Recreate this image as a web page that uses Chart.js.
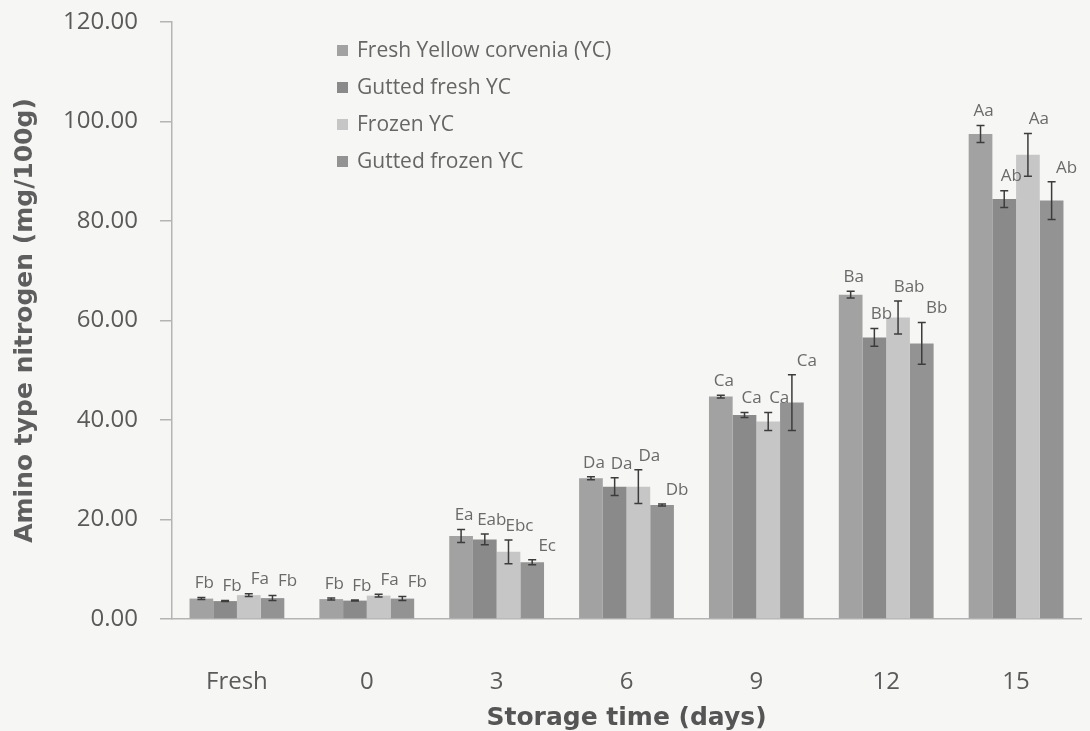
<!DOCTYPE html>
<html>
<head>
<meta charset="utf-8">
<script src="https://cdn.jsdelivr.net/npm/chart.js@4.4.1/dist/chart.umd.min.js"></script>
<style>
  html, body { margin: 0; padding: 0; background: #f6f6f4; }
  #wrap { width: 1090px; height: 731px; }
</style>
</head>
<body>
<div id="wrap"><canvas id="c" width="1090" height="731"></canvas></div>
<script>
// Storage time categories
const categories = ['Fresh', '0', '3', '6', '9', '12', '15'];

// Mean amino type nitrogen (mg/100g)
const freshYC        = [4.1, 4.0, 16.7, 28.3, 44.7, 65.2, 97.5];
const guttedFreshYC  = [3.6, 3.7, 16.0, 26.6, 41.0, 56.6, 84.4];
const frozenYC       = [4.8, 4.7, 13.5, 26.6, 39.7, 60.6, 93.3];
const guttedFrozenYC = [4.2, 4.1, 11.4, 22.9, 43.5, 55.4, 84.1];

// Standard deviations
const freshErr        = [0.2, 0.2, 1.3, 0.3, 0.3, 0.7, 1.7];
const guttedFreshErr  = [0.1, 0.1, 1.1, 1.8, 0.5, 1.8, 1.7];
const frozenErr       = [0.3, 0.3, 2.4, 3.4, 1.8, 3.3, 4.3];
const guttedFrozenErr = [0.5, 0.4, 0.5, 0.2, 5.6, 4.2, 3.8];

// Significance letters
const freshSig        = ['Fb', 'Fb', 'Ea', 'Da', 'Ca', 'Ba', 'Aa'];
const guttedFreshSig  = ['Fb', 'Fb', 'Eab', 'Da', 'Ca', 'Bb', 'Ab'];
const frozenSig       = ['Fa', 'Fa', 'Ebc', 'Da', 'Ca', 'Bab', 'Aa'];
const guttedFrozenSig = ['Fb', 'Fb', 'Ec', 'Db', 'Ca', 'Bb', 'Ab'];

// Y axis ticks
const yTicks = [0, 20, 40, 60, 80, 100, 120];

const FONT = "'Open Sans', 'Noto Sans', sans-serif";
const TITLE_FONT = "'DejaVu Sans', 'Noto Sans', sans-serif";
const TEXT = '#5a5a5a';

const series = [
  { label: 'Fresh Yellow corvenia (YC)', data: freshYC, err: freshErr, sig: freshSig, color: '#a2a2a2' },
  { label: 'Gutted fresh YC', data: guttedFreshYC, err: guttedFreshErr, sig: guttedFreshSig, color: '#8a8a8a' },
  { label: 'Frozen YC', data: frozenYC, err: frozenErr, sig: frozenSig, color: '#c6c6c6' },
  { label: 'Gutted frozen YC', data: guttedFrozenYC, err: guttedFrozenErr, sig: guttedFrozenSig, color: '#939393' }
];

const background = {
  id: 'background',
  beforeDraw(chart) {
    const ctx = chart.ctx;
    ctx.save();
    ctx.fillStyle = '#f6f6f4';
    ctx.fillRect(0, 0, chart.width, chart.height);
    ctx.restore();
  }
};

// Error bars and significance letters above each bar
const errorBars = {
  id: 'errorBars',
  afterDatasetsDraw(chart) {
    const ctx = chart.ctx;
    const y = chart.scales.y;
    ctx.save();
    chart.data.datasets.forEach((ds, di) => {
      const meta = chart.getDatasetMeta(di);
      meta.data.forEach((bar, i) => {
        const v = ds.data[i];
        const e = ds.err[i];
        const yTop = y.getPixelForValue(v + e);
        const yBot = y.getPixelForValue(v - e);
        ctx.strokeStyle = '#3c3c3c';
        ctx.lineWidth = 1.5;
        ctx.beginPath();
        ctx.moveTo(bar.x, yTop); ctx.lineTo(bar.x, yBot);
        ctx.moveTo(bar.x - 4, yTop); ctx.lineTo(bar.x + 4, yTop);
        ctx.moveTo(bar.x - 4, yBot); ctx.lineTo(bar.x + 4, yBot);
        ctx.stroke();

        ctx.fillStyle = '#6a6a6a';
        ctx.font = '17px ' + FONT;
        ctx.textAlign = 'center';
        ctx.textBaseline = 'middle';
        ctx.fillText(ds.sig[i], bar.x + 3 + di * 4, yTop - 14);
      });
    });
    ctx.restore();
  }
};

// Legend stacked in the upper-left of the plot
const legendBox = {
  id: 'legendBox',
  afterDraw(chart) {
    const ctx = chart.ctx;
    ctx.save();
    ctx.font = '21px ' + FONT;
    ctx.textBaseline = 'middle';
    ctx.textAlign = 'left';
    chart.data.datasets.forEach((ds, di) => {
      const cy = 51 + di * 37;
      ctx.fillStyle = ds.backgroundColor;
      ctx.fillRect(337, cy - 6, 11, 11);
      ctx.fillStyle = '#666';
      ctx.fillText(ds.label, 357, cy);
    });
    ctx.restore();
  }
};

new Chart(document.getElementById('c'), {
  type: 'bar',
  data: {
    labels: categories,
    datasets: series.map(s => ({
      label: s.label,
      data: s.data,
      err: s.err,
      sig: s.sig,
      backgroundColor: s.color,
      borderWidth: 0,
      categoryPercentage: 0.73,
      barPercentage: 1.0
    }))
  },
  options: {
    responsive: false,
    animation: false,
    devicePixelRatio: 1,
    layout: { padding: { top: 22, right: 9, bottom: 0, left: 13 } },
    plugins: {
      legend: { display: false },
      tooltip: { enabled: false }
    },
    scales: {
      x: {
        grid: { display: false },
        border: { display: true, color: '#b4b4b4', width: 1.5 },
        ticks: { color: TEXT, font: { family: FONT, size: 24 }, padding: 41 },
        title: {
          display: true,
          text: 'Storage time (days)',
          color: '#555',
          font: { family: TITLE_FONT, size: 25, weight: 'bold', lineHeight: 1.0 },
          padding: { top: 0, bottom: 0 }
        },
        afterFit(scale) { scale.height = 112; }
      },
      y: {
        min: 0,
        max: 120,
        afterBuildTicks(scale) { scale.ticks = yTicks.map(v => ({ value: v })); },
        grid: { drawOnChartArea: false, drawTicks: true, tickLength: 12, color: '#b4b4b4', lineWidth: 1.5 },
        border: { display: true, color: '#b4b4b4', width: 1.5 },
        ticks: {
          color: TEXT,
          font: { family: FONT, size: 24 },
          padding: 22,
          callback: v => Number(v).toFixed(2)
        },
        title: {
          display: true,
          text: 'Amino type nitrogen (mg/100g)',
          color: '#5e5e5e',
          font: { family: TITLE_FONT, size: 25, weight: 'bold', lineHeight: 1.0 },
          padding: { top: 0, bottom: 0 }
        },
        afterFit(scale) {
          scale.width = 159;
          scale.paddingTop = 0;
          scale.paddingBottom = 0;
        }
      }
    }
  },
  plugins: [background, errorBars, legendBox]
});
</script>
</body>
</html>
